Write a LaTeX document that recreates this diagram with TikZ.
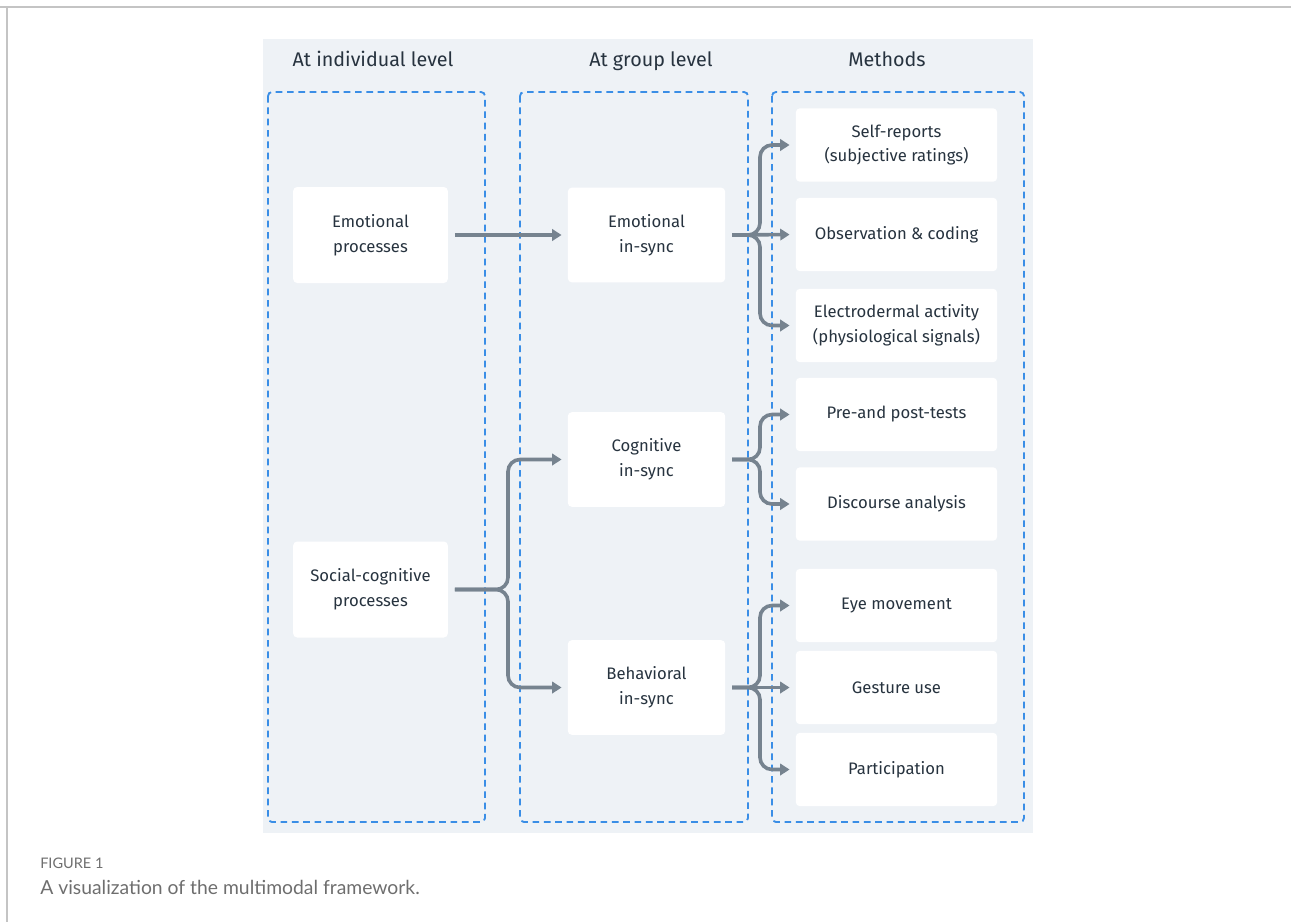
\documentclass[tikz,border=0pt]{standalone}
\usepackage{fontspec}
\setmainfont{Fira Sans}
\newfontfamily\capfont{Lato}
\usetikzlibrary{arrows.meta,positioning,calc}

\definecolor{panel}{HTML}{EEF2F6}
\definecolor{dashblue}{HTML}{3A8EE6}
\definecolor{ink}{HTML}{27333F}
\definecolor{arrowgray}{HTML}{76838F}
\definecolor{capgray}{HTML}{6E6E6E}
\definecolor{frame}{HTML}{C4C4C4}

\begin{document}
\begin{tikzpicture}[
    x=0.75pt, y=-0.75pt,
    font=\fontsize{12.5}{18.5}\selectfont,
    level/.style={draw=dashblue, dash pattern=on 5pt off 3.5pt, line width=1.4pt, rounded corners=3pt},
    card/.style={fill=white, rounded corners=3pt, text=ink, align=center, inner sep=2pt},
    src/.style={card, minimum width=116pt, minimum height=72pt},
    sync/.style={card, minimum width=118pt, minimum height=71pt},
    meth/.style={card, minimum width=151pt, minimum height=55pt},
    head/.style={text=ink, font=\fontsize{14.8}{18}\selectfont, anchor=base},
    arr/.style={-{Triangle[length=7pt,width=8.5pt]}, line width=2.7pt, draw=arrowgray,
                rounded corners=9pt, shorten <=5pt, shorten >=4.5pt},
]
\useasboundingbox (0,0) rectangle (1291,922);
\draw[frame, line width=1.5pt] (0,7) -- (1291,7) (7,7) -- (7,922);
\fill[panel] (263,39) rectangle (1033,833);

\node[head] (h1) at (373,66) {At individual level};
\node[head] (h2) at (651,66) {At group level};
\node[head] (h3) at (887,66) {Methods};

\draw[level] (268,92) rectangle (485,822);
\draw[level] (520,92) rectangle (748,822);
\draw[level] (772,92) rectangle (1024,822);

% individual level
\node[src] (emo) at (370.5,235) {Emotional\\processes};
\node[src] (soc) at (370.5,589.5) {Social-cognitive\\processes};

% group level
\node[sync] (esync) at (646.5,235) {Emotional\\in-sync};
\node[sync] (csync) at (646.5,459.5) {Cognitive\\in-sync};
\node[sync] (bsync) at (646.5,687.5) {Behavioral\\in-sync};

% methods
\node[meth] (self) at (896.5,145) {Self-reports\\(subjective ratings)};
\node[meth] (obs) at (896.5,234.5) {Observation \& coding};
\node[meth] (eda) at (896.5,325.5) {Electrodermal activity\\(physiological signals)};
\node[meth] (pre) at (896.5,414.5) {Pre-and post-tests};
\node[meth] (disc) at (896.5,504) {Discourse analysis};
\node[meth] (eye) at (896.5,605.5) {Eye movement};
\node[meth] (gest) at (896.5,687.5) {Gesture use};
\node[meth] (part) at (896.5,769.5) {Participation};

\coordinate (jl) at (508,0);
\coordinate (jr) at (760,0);

\draw[arr] (emo) -- (esync);
\draw[arr] (soc.east) -- (soc.east -| jl) |- (csync.west);
\draw[arr] (soc.east) -- (soc.east -| jl) |- (bsync.west);

\draw[arr] (esync.east) -- (esync.east -| jr) |- (self.west);
\draw[arr] (esync.east) -- (obs.west);
\draw[arr] (esync.east) -- (esync.east -| jr) |- (eda.west);

\draw[arr] (csync.east) -- (csync.east -| jr) |- (pre.west);
\draw[arr] (csync.east) -- (csync.east -| jr) |- (disc.west);

\draw[arr] (bsync.east) -- (bsync.east -| jr) |- (eye.west);
\draw[arr] (bsync.east) -- (gest.west);
\draw[arr] (bsync.east) -- (bsync.east -| jr) |- (part.west);

\node[anchor=base west, inner sep=0pt, text=capgray, font=\capfont\fontsize{10.9}{13}\selectfont] (fig) at (40,868) {FIGURE 1};
\node[anchor=base west, inner sep=0pt, text=capgray, font=\capfont\fontsize{14.5}{17}\selectfont] (cap) at (40,894) {A visualization of the multimodal framework.};
\end{tikzpicture}
\end{document}
